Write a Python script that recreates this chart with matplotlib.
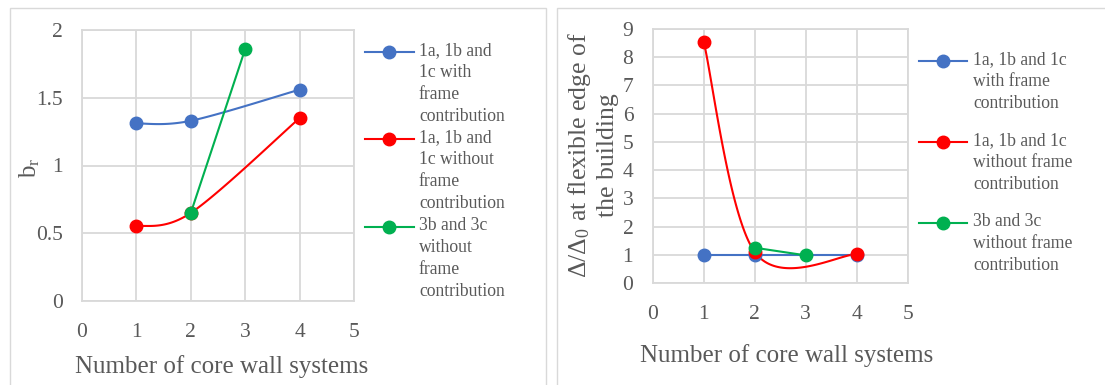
import numpy as np
import matplotlib
matplotlib.use('Agg')
import matplotlib.pyplot as plt
from matplotlib.lines import Line2D
from matplotlib.patches import Rectangle

plt.rcParams['font.family'] = ['Liberation Serif', 'DejaVu Serif']
plt.rcParams['mathtext.fontset'] = 'stix'

# data
x_blue_l = [1, 2, 4]
y_blue_l = [1.31, 1.33, 1.56]
x_red_l = [1, 2, 4]
y_red_l = [0.55, 0.65, 1.35]
x_green_l = [2, 3]
y_green_l = [0.65, 1.86]

x_blue_r = [1, 2, 4]
y_blue_r = [1.0, 1.0, 1.0]
x_red_r = [1, 2, 4]
y_red_r = [8.55, 1.1, 1.02]
x_green_r = [2, 3]
y_green_r = [1.25, 0.98]

labels_l = ['1a, 1b and\n1c with\nframe\ncontribution',
            '1a, 1b and\n1c without\nframe\ncontribution',
            '3b and 3c\nwithout\nframe\ncontribution']
labels_r = ['1a, 1b and 1c\nwith frame\ncontribution',
            '1a, 1b and 1c\nwithout frame\ncontribution',
            '3b and 3c\nwithout frame\ncontribution']

colors = ['#4472C4', '#FF0000', '#00B050']
txt = '#595959'
grid = '#D9D9D9'
W, H = 1105, 385


def smooth(x, y, n=60):
    # excel-like smoothed line (bezier with catmull-rom control points)
    p = np.column_stack([x, y]).astype(float)
    if len(p) < 3:
        return p[:, 0], p[:, 1]
    ext = np.vstack([p[0], p, p[-1]])
    out = []
    t = np.linspace(0, 1, n)[:, None]
    for i in range(len(p) - 1):
        p0, p1, p2, p3 = ext[i], ext[i + 1], ext[i + 2], ext[i + 3]
        c1 = p1 + (p2 - p0) / 6
        c2 = p2 - (p3 - p1) / 6
        seg = ((1 - t) ** 3) * p1 + 3 * ((1 - t) ** 2) * t * c1 + 3 * (1 - t) * t ** 2 * c2 + t ** 3 * p2
        out.append(seg)
    out = np.vstack(out)
    return out[:, 0], out[:, 1]


def style(ax, ymax, ystep):
    ax.set_xlim(0, 5)
    ax.set_ylim(0, ymax)
    ax.set_xticks(range(0, 6))
    ax.set_yticks(np.arange(0, ymax + ystep / 2, ystep))
    ax.grid(True, color=grid, lw=1.3)
    ax.set_axisbelow(True)
    for s in ax.spines.values():
        s.set_color(grid)
        s.set_linewidth(1.3)
    ax.tick_params(length=0, labelsize=15.5, colors=txt, pad=14)
    ax.tick_params(axis='x', pad=16)


def px(x, y):
    return x / W, 1 - y / H


fig = plt.figure(figsize=(11.05, 3.85), dpi=100)

# panel borders
fig.add_artist(Rectangle(px(10, 400), 536 / W, 392 / H, transform=fig.transFigure,
                         fill=False, edgecolor=grid, lw=1))
fig.add_artist(Rectangle(px(557, 400), 600 / W, 392 / H, transform=fig.transFigure,
                         fill=False, edgecolor=grid, lw=1))

# left chart
ax1 = fig.add_axes([82 / W, (385 - 301) / H, 272 / W, 271 / H])
style(ax1, 2, 0.5)
ax1.set_yticks([0, 0.5, 1, 1.5, 2])
ax1.set_yticklabels(['0', '0.5', '1', '1.5', '2'])
series_l = [(x_blue_l, y_blue_l), (x_red_l, y_red_l), (x_green_l, y_green_l)]
for (xs, ys), c in zip(series_l, colors):
    sx, sy = smooth(xs, ys)
    ax1.plot(sx, sy, color=c, lw=1.5, zorder=3)
    ax1.plot(xs, ys, 'o', color=c, ms=9, zorder=4)
ax1.set_xlabel('Number of core wall systems', fontsize=18, color=txt, va='center')
ax1.xaxis.set_label_coords(0.513, -0.2435)
ax1.set_ylabel('b$_\\mathregular{r}$', fontsize=18, color=txt, va='center')
ax1.yaxis.set_label_coords(-0.19, 0.49)

# right chart
ax2 = fig.add_axes([652.7 / W, (385 - 283) / H, 255 / W, 254 / H])
style(ax2, 9, 1)
series_r = [(x_blue_r, y_blue_r), (x_red_r, y_red_r), (x_green_r, y_green_r)]
for (xs, ys), c in zip(series_r, colors):
    sx, sy = smooth(xs, ys)
    ax2.plot(sx, sy, color=c, lw=1.5, zorder=3)
    ax2.plot(xs, ys, 'o', color=c, ms=9, zorder=4)
ax2.set_xlabel('Number of core wall systems', fontsize=18, color=txt, va='center')
ax2.xaxis.set_label_coords(0.527, -0.2835)
ax2.set_ylabel('Δ/Δ$_\\mathregular{0}$ at flexible edge of\nthe building', fontsize=18.5,
               color=txt, va='center', ha='center', multialignment='center', linespacing=1.25)
ax2.yaxis.set_label_coords(-0.235, 0.505)

# legends, drawn by hand so the marker sits on the first text line
def legend(x0, x1, xt, ys, labels):
    for y, c, lab in zip(ys, colors, labels):
        fx0, fy = px(x0, y)
        fx1, _ = px(x1, y)
        fig.add_artist(Line2D([fx0, fx1], [fy, fy], color=c, lw=1.5, transform=fig.transFigure))
        fig.add_artist(Line2D([(fx0 + fx1) / 2], [fy], marker='o', color=c, ms=9,
                              transform=fig.transFigure))
        tx, ty = px(xt, y - 10)
        fig.text(tx, ty, lab, fontsize=12.7, color=txt, va='top', ha='left', linespacing=1.38)


legend(365, 414, 419, [52, 139, 227], labels_l)
legend(919, 967, 973, [61, 142, 223], labels_r)

fig.savefig('out.png', dpi=100)
